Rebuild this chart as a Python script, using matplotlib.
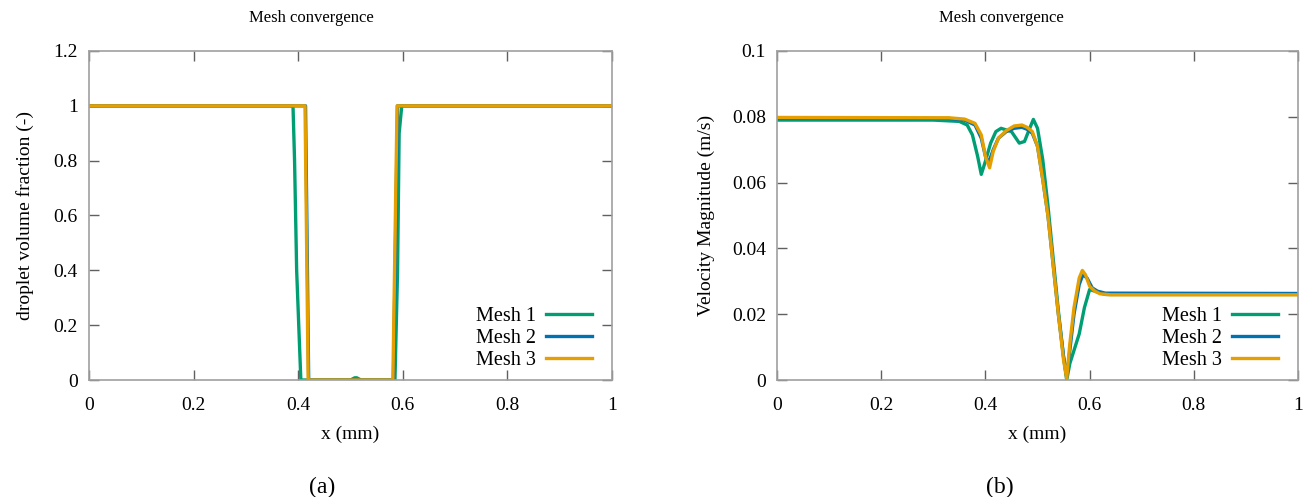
import numpy as np
import matplotlib.pyplot as plt

plt.rcParams['font.family'] = ['Liberation Serif', 'DejaVu Serif']

# Colours used for the three meshes
colors = ['#009E73', '#0072B2', '#E69F00']
labels = ['Mesh 1', 'Mesh 2', 'Mesh 3']

# (a) droplet volume fraction along x
vf_x1 = [0, 0.390, 0.393, 0.397, 0.405, 0.50, 0.508, 0.512, 0.52, 0.585, 0.590, 0.593, 0.598, 1.0]
vf_y1 = [1, 1, 0.8, 0.4, 0, 0, 0.008, 0.008, 0, 0, 0.4, 0.9, 1, 1]
vf_x2 = [0, 0.414, 0.420, 0.582, 0.590, 1.0]
vf_y2 = [1, 1, 0, 0, 1, 1]
vf_x3 = [0, 0.413, 0.419, 0.581, 0.589, 1.0]
vf_y3 = [1, 1, 0, 0, 1, 1]

# (b) velocity magnitude along x
v_x1 = [0, 0.30, 0.35, 0.365, 0.375, 0.385, 0.392, 0.40, 0.41, 0.42, 0.43, 0.45, 0.465, 0.475,
        0.485, 0.492, 0.50, 0.51, 0.52, 0.53, 0.54, 0.55, 0.556, 0.562, 0.57, 0.58, 0.59,
        0.60, 0.61, 0.63, 1.0]
v_y1 = [0.079, 0.079, 0.0786, 0.0775, 0.0745, 0.068, 0.0625, 0.0665, 0.072, 0.0755, 0.0765,
        0.0755, 0.072, 0.0725, 0.0765, 0.0792, 0.0765, 0.067, 0.053, 0.037, 0.021, 0.007,
        0.0, 0.005, 0.009, 0.014, 0.022, 0.0275, 0.027, 0.026, 0.026]
v_x2 = [0, 0.33, 0.36, 0.38, 0.392, 0.40, 0.406, 0.415, 0.425, 0.44, 0.455, 0.47, 0.48, 0.49,
        0.50, 0.51, 0.52, 0.53, 0.54, 0.55, 0.556, 0.562, 0.57, 0.58, 0.587, 0.595, 0.605,
        0.615, 0.63, 1.0]
v_y2 = [0.0795, 0.0795, 0.079, 0.0775, 0.0735, 0.068, 0.066, 0.070, 0.0735, 0.0755, 0.0765,
        0.0768, 0.0762, 0.075, 0.071, 0.061, 0.050, 0.035, 0.020, 0.007, 0.001, 0.009, 0.020,
        0.029, 0.032, 0.031, 0.028, 0.027, 0.0264, 0.0263]
v_x3 = [0, 0.33, 0.36, 0.38, 0.392, 0.40, 0.408, 0.415, 0.425, 0.44, 0.455, 0.47, 0.48, 0.49,
        0.50, 0.51, 0.52, 0.53, 0.54, 0.55, 0.556, 0.562, 0.57, 0.58, 0.586, 0.592, 0.60,
        0.61, 0.62, 0.64, 1.0]
v_y3 = [0.0798, 0.0797, 0.0793, 0.078, 0.0745, 0.068, 0.0645, 0.0695, 0.0735, 0.0758, 0.0772,
        0.0775, 0.0768, 0.0755, 0.071, 0.061, 0.050, 0.035, 0.020, 0.006, 0.0005, 0.011, 0.022,
        0.031, 0.0333, 0.032, 0.0285, 0.027, 0.0262, 0.0259, 0.0259]

fig = plt.figure(figsize=(13.04, 4.97), dpi=100)
ax1 = fig.add_axes([0.0683, 0.2354, 0.4010, 0.6620])
ax2 = fig.add_axes([0.5959, 0.2354, 0.3995, 0.6620])


def style_axes(ax):
    for s in ax.spines.values():
        s.set_color('#a0a0a0')
        s.set_linewidth(1.2)
    ax.tick_params(direction='in', length=7, width=1, color='#606060',
                   labelsize=14, top=True, right=True)
    ax.tick_params(axis='x', pad=12)
    ax.tick_params(axis='y', pad=8)
    ax.set_xlim(0, 1)
    ax.set_xticks([0, 0.2, 0.4, 0.6, 0.8, 1.0])
    ax.set_xticklabels(['0', '0.2', '0.4', '0.6', '0.8', '1'])
    ax.set_xlabel('x (mm)', fontsize=14, labelpad=9)


# Panel (a)
ax1.plot(vf_x1, vf_y1, color=colors[0], lw=2.4, label=labels[0])
ax1.plot(vf_x2, vf_y2, color=colors[1], lw=2.4, label=labels[1])
ax1.plot(vf_x3, vf_y3, color=colors[2], lw=2.4, label=labels[2])
style_axes(ax1)
ax1.set_ylim(0, 1.2)
ax1.set_yticks([0, 0.2, 0.4, 0.6, 0.8, 1.0, 1.2])
ax1.set_yticklabels(['0', '0.2', '0.4', '0.6', '0.8', '1', '1.2'])
ax1.set_ylabel('droplet volume fraction (-)', fontsize=14, labelpad=14)
ax1.legend(loc='lower right', bbox_to_anchor=(0.997, -0.025), frameon=False, markerfirst=False,
           fontsize=14.5, handlelength=2.3, labelspacing=0.15, handletextpad=0.5)

# Panel (b)
ax2.plot(v_x1, v_y1, color=colors[0], lw=2.4, label=labels[0])
ax2.plot(v_x2, v_y2, color=colors[1], lw=2.4, label=labels[1])
ax2.plot(v_x3, v_y3, color=colors[2], lw=2.4, label=labels[2])
style_axes(ax2)
ax2.set_ylim(0, 0.1)
ax2.set_yticks([0, 0.02, 0.04, 0.06, 0.08, 0.1])
ax2.set_yticklabels(['0', '0.02', '0.04', '0.06', '0.08', '0.1'])
ax2.set_ylabel('Velocity Magnitude (m/s)', fontsize=14, labelpad=12)
ax2.legend(loc='lower right', bbox_to_anchor=(0.997, -0.025), frameon=False, markerfirst=False,
           fontsize=14.5, handlelength=2.3, labelspacing=0.15, handletextpad=0.5)

# Titles are centred over each panel's full canvas, not just the axes
fig.text(311 / 1304, 1 - 18 / 497, 'Mesh convergence', fontsize=12, ha='center', va='center')
fig.text(1001 / 1304, 1 - 18 / 497, 'Mesh convergence', fontsize=12, ha='center', va='center')

fig.text(322 / 1304, 1 - 487 / 497, '(a)', fontsize=17, ha='center', va='center')
fig.text(1000 / 1304, 1 - 487 / 497, '(b)', fontsize=17, ha='center', va='center')

plt.savefig('out.png', dpi=100)
